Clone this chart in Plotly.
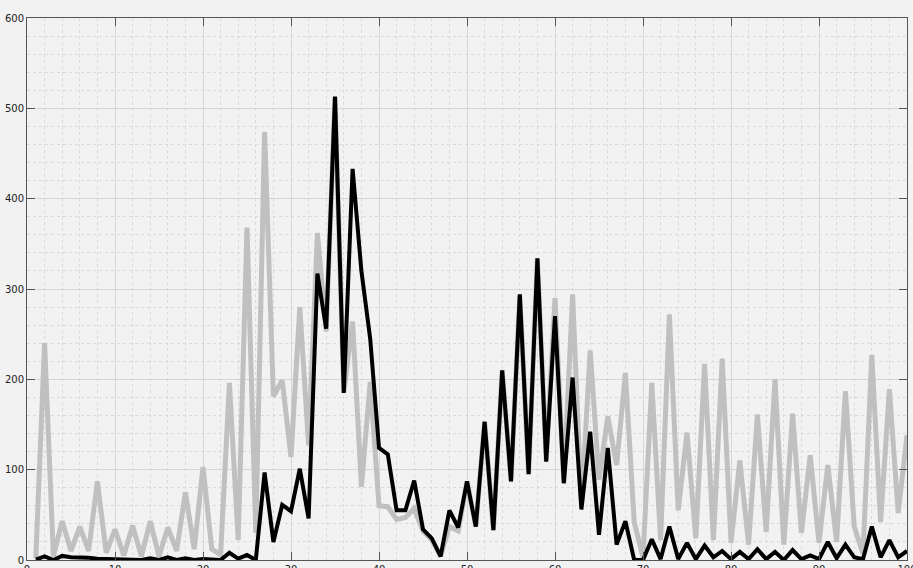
import plotly.graph_objects as go

x_vals = list(range(1, 101))

gray_vals = [2, 240, 4, 43, 10, 37, 10, 87, 8, 34,
             5, 38, 4, 43, 4, 36, 10, 75, 12, 103,
             12, 6, 196, 22, 368, 30, 474, 181, 199, 114,
             280, 127, 362, 253, 512, 185, 264, 81, 197, 60,
             59, 45, 47, 57, 32, 22, 4, 37, 32, 87,
             37, 153, 33, 210, 87, 293, 95, 334, 110, 290,
             85, 294, 60, 232, 89, 159, 105, 207, 42, 3,
             196, 22, 272, 55, 141, 24, 217, 22, 223, 19,
             110, 17, 161, 31, 200, 17, 162, 30, 116, 19,
             105, 20, 187, 37, 7, 227, 42, 189, 52, 138]

black_vals = [0.5, 4, 0, 4.5, 3, 3, 2.5, 1.5, 1, 1,
              0, 0, 0, 2, 0, 3, 0, 2, 0, 1,
              1, 0, 8, 1.5, 5.5, 0, 97, 20, 61, 54,
              101, 46, 317, 256, 513, 185, 433, 320, 245, 124,
              117, 55, 55, 88, 34, 24, 4, 55, 36, 87,
              37, 153, 33, 210, 87, 294, 95, 334, 109, 270,
              85, 202, 56, 142, 28, 124, 17, 43, 0, 0,
              23, 1, 37, 1, 19, 1, 16, 3, 10, 1,
              9, 1, 12, 1, 9, 0, 11, 1, 5, 1,
              20, 2, 17, 3, 1, 37, 3, 22, 3, 10]

x_ticks = [0, 10, 20, 30, 40, 50, 60, 70, 80, 90, 100]
y_ticks = [0, 100, 200, 300, 400, 500, 600]

fig = go.Figure()
fig.add_trace(go.Scatter(x=x_vals, y=gray_vals, mode="lines",
                         line=dict(color="rgb(192,192,192)", width=5),
                         showlegend=False, hoverinfo="skip"))
fig.add_trace(go.Scatter(x=x_vals, y=black_vals, mode="lines",
                         line=dict(color="black", width=4),
                         showlegend=False, hoverinfo="skip"))

axis_common = dict(
    showline=True, linecolor="#555555", linewidth=1, mirror="ticks",
    ticks="inside", ticklen=8, tickcolor="#555555", tickwidth=1,
    showgrid=True, gridcolor="rgb(214,214,214)", gridwidth=1,
    zeroline=False, automargin=False, ticklabeloverflow="allow",
    tickfont=dict(family="DejaVu Sans", size=10, color="#222222"),
)

fig.update_xaxes(range=[0, 100], tickvals=x_ticks,
                 ticktext=[str(v) for v in x_ticks],
                 minor=dict(dtick=2, tick0=0, showgrid=True, gridcolor="rgb(218,218,218)",
                            griddash="dot", gridwidth=1, ticks=""),
                 **axis_common)
fig.update_yaxes(range=[0, 600], tickvals=y_ticks,
                 ticktext=[str(v) for v in y_ticks],
                 minor=dict(dtick=20, tick0=0, showgrid=True, gridcolor="rgb(218,218,218)",
                            griddash="dot", gridwidth=1, ticks=""),
                 **axis_common)

fig.update_layout(
    width=913, height=568,
    margin=dict(l=27, r=6, t=18, b=8, pad=0),
    paper_bgcolor="rgb(242,242,242)",
    plot_bgcolor="rgb(242,242,242)",
    showlegend=False,
)

fig.write_html(
    "out.html",
    config={"displayModeBar": False},
    post_script="document.body.style.margin='0';document.body.style.overflow='hidden';",
)
